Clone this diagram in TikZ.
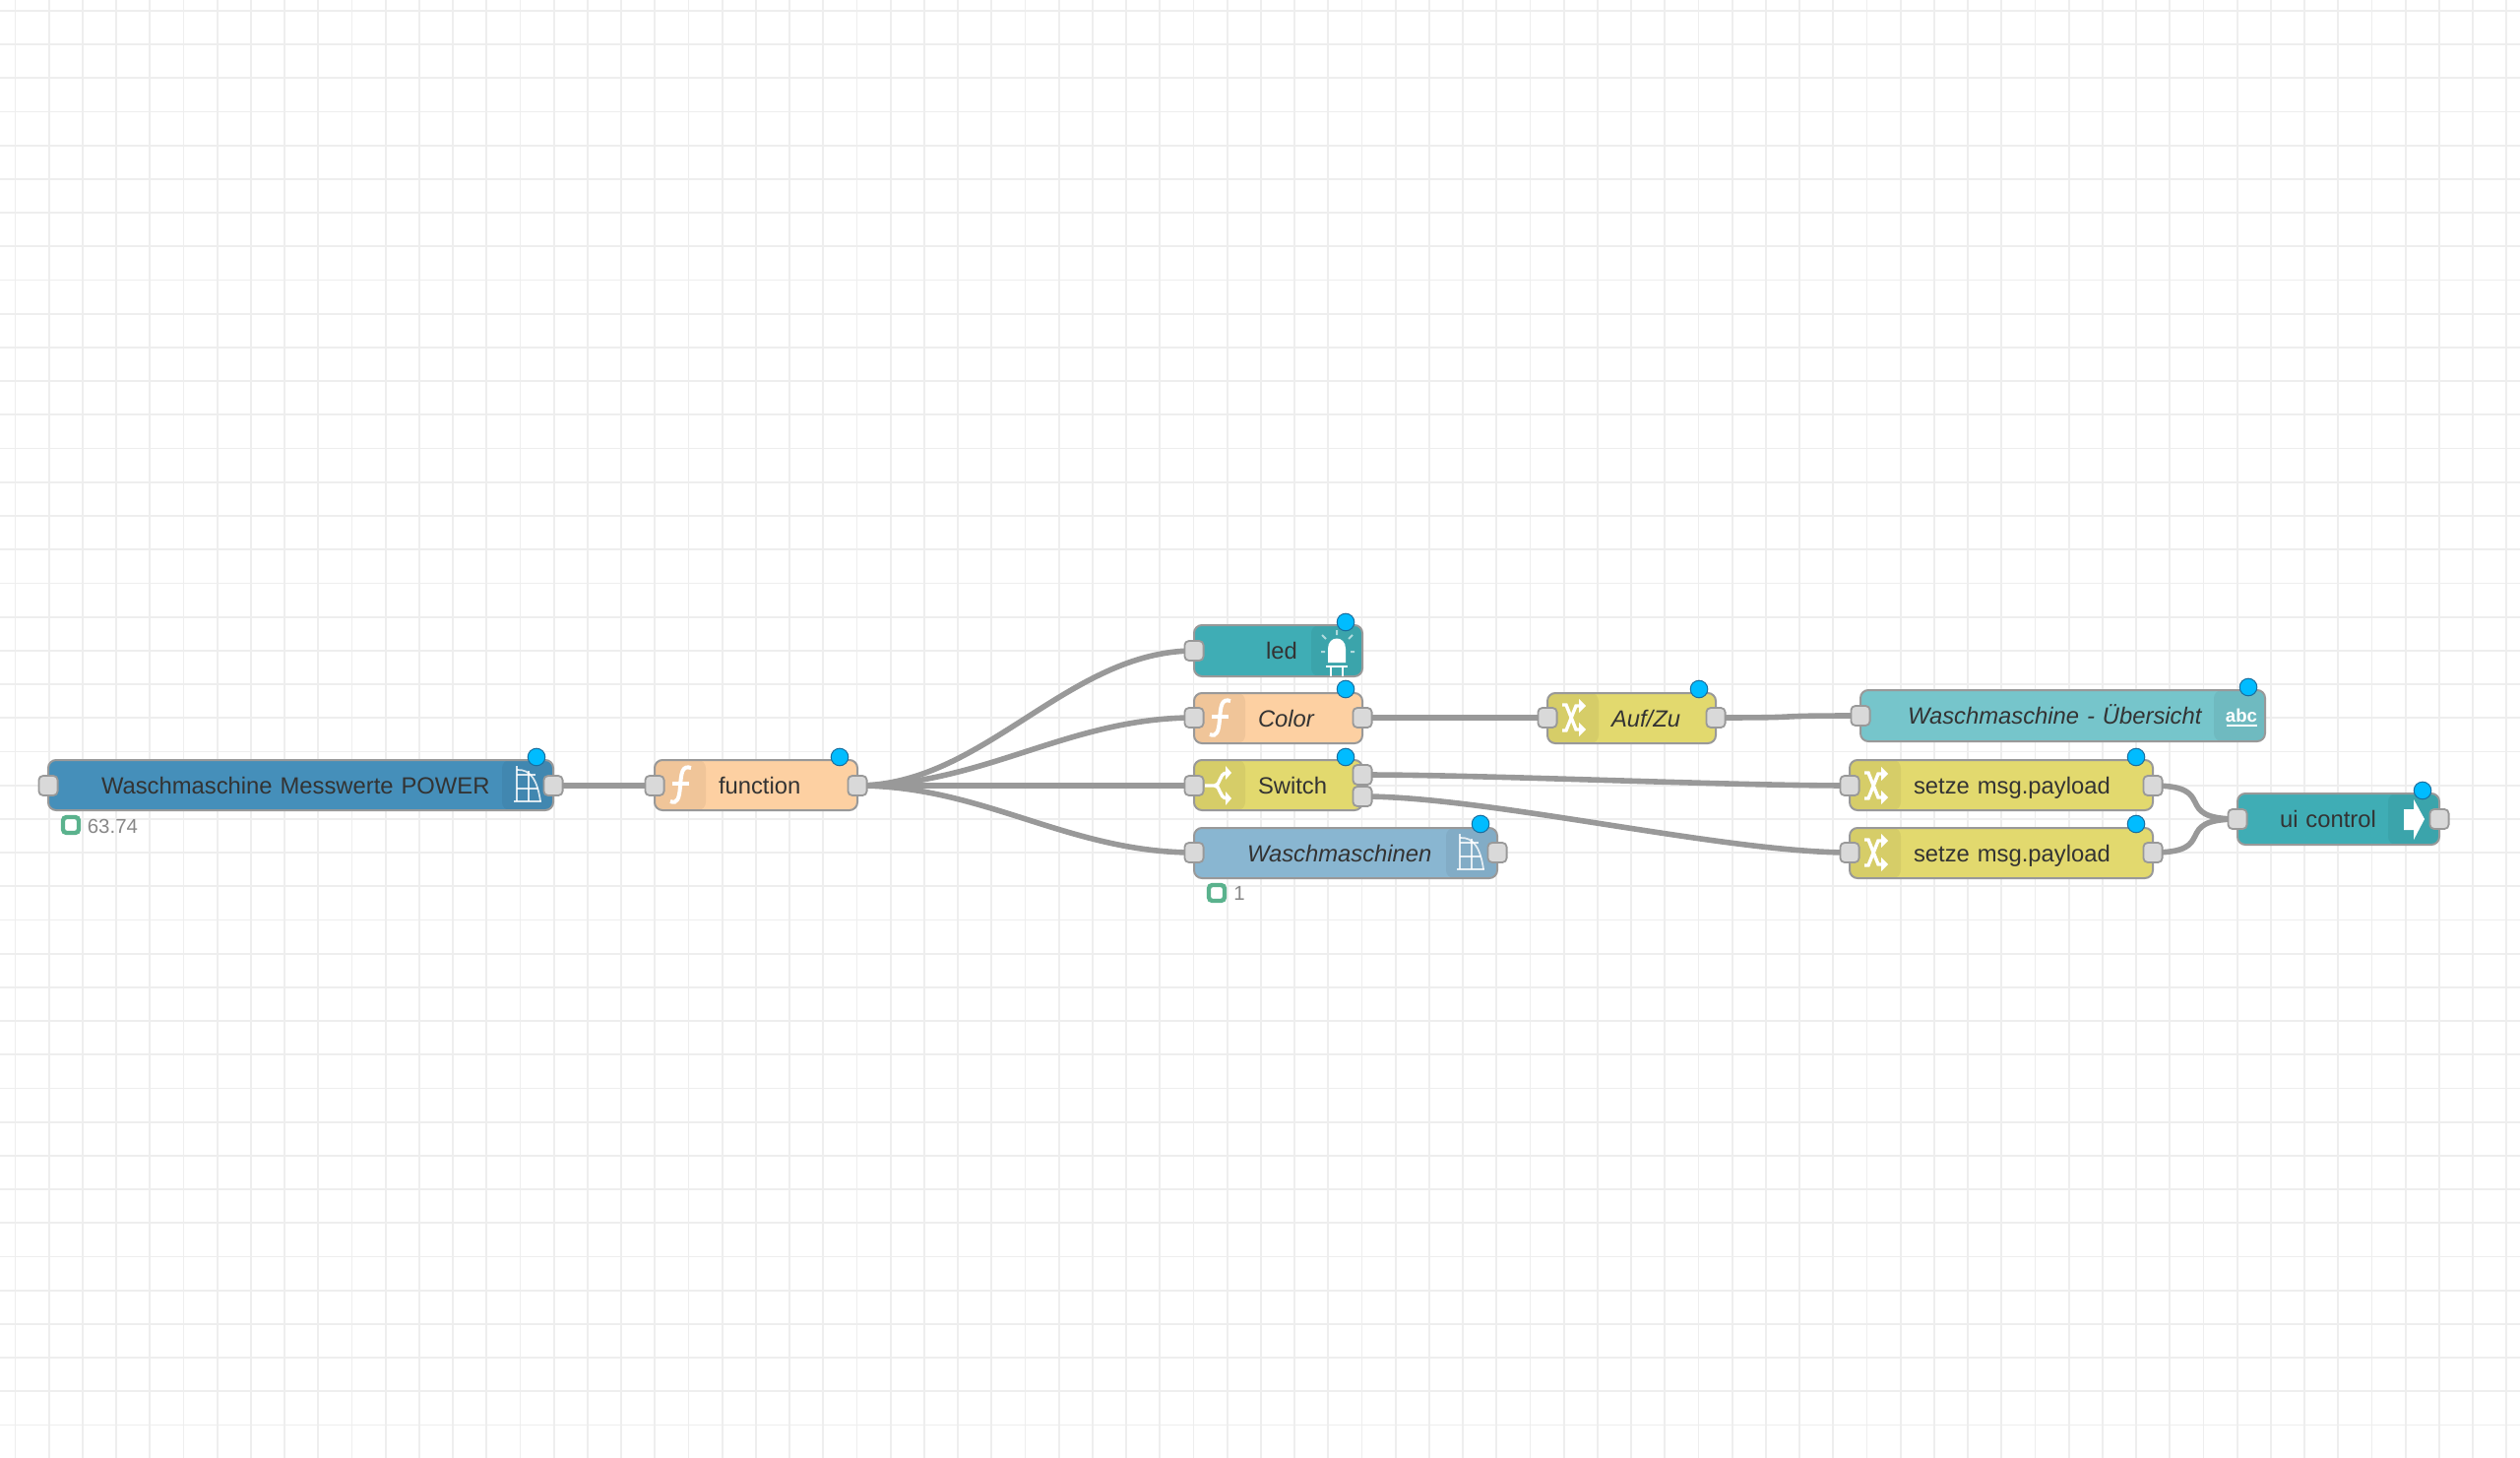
\documentclass[tikz,border=0pt]{standalone}
\usepackage{fontspec}
\setmainfont{Liberation Sans}
\definecolor{gridc}{HTML}{EEEEEE}
\definecolor{linkc}{HTML}{999999}
\definecolor{edgec}{HTML}{999999}
\definecolor{portc}{HTML}{D9D9D9}
\definecolor{labelc}{HTML}{333333}
\definecolor{statusc}{HTML}{888888}
\definecolor{okc}{HTML}{5AB28D}
\definecolor{dotc}{HTML}{00BCFF}
\definecolor{dotedge}{HTML}{1A6E9E}
\definecolor{blue1}{HTML}{458FBA}
\definecolor{blue2}{HTML}{89B6D1}
\definecolor{peach}{HTML}{FDD0A2}
\definecolor{yellow}{HTML}{E2D96E}
\definecolor{teal1}{HTML}{3FADB5}
\definecolor{teal2}{HTML}{76C5CB}
\pgfdeclarelayer{gridlayer}
\pgfdeclarelayer{linklayer}
\pgfsetlayers{gridlayer,linklayer,main}
\tikzset{
  nrbody/.style={draw=edgec,line width=1pt,rectangle,rounded corners=4pt,inner sep=0pt,outer sep=0pt,
    align=left,text=labelc,text height=10.4pt,text depth=1.5pt,font=\fontsize{11.9}{14}\selectfont},
  stripL/.style={path picture={\fill[black,opacity=.05] (path picture bounding box.north west) rectangle ([xshift=26pt]path picture bounding box.south west);}},
  stripR/.style={path picture={\fill[black,opacity=.05] ([xshift=-26pt]path picture bounding box.north east) rectangle (path picture bounding box.south east);}},
  port/.style={draw=edgec,fill=portc,line width=.9pt,rectangle,rounded corners=2.2pt,minimum width=9.6pt,minimum height=10pt,inner sep=0pt,outer sep=0pt},
  dot/.style={draw=dotedge,fill=dotc,line width=.5pt,circle,minimum size=8.8pt,inner sep=0pt},
  okbox/.style={draw=okc,fill=white,line width=2.2pt,rectangle,rounded corners=1.8pt,minimum size=8pt,inner sep=0pt},
  statustext/.style={anchor=west,inner sep=0pt,text=statusc,font=\fontsize{10.2}{12}\selectfont},
  link/.style={draw=linkc,line width=2.8pt},
  gridline/.style={draw=gridc,line width=.9pt},
  iconline/.style={draw=white,line width=1.7pt},
  iconthin/.style={draw=white,line width=.85pt,opacity=.8},
  iconfill/.style={fill=white,draw=none},
}
\newcommand\nrnode[8]{%
  \pgfmathsetlengthmacro\nrw{(#4-#2)*0.5pt}%
  \pgfmathsetlengthmacro\nrh{(#5-#3)*0.5pt}%
  \pgfmathsetlengthmacro\nro{#7*0.5pt}%
  \node[nrbody,#6,text width=\nrw,minimum height=\nrh] (#1) at ({(#2+#4)/2},{(#3+#5)/2}) {\hspace*{\nro}#8};%
}
\newcommand\iconfunc[2]{\begin{scope}[shift={(#1,#2)}]
  \draw[iconline,line width=2pt] (-11,17) .. controls (-4,20) and (-2,14) .. (-1,2) .. controls (0,-12) and (1,-20) .. (10,-17);
  \draw[iconline] (-9,-1) -- (8,-1);
\end{scope}}
\newcommand\iconchange[2]{\begin{scope}[shift={(#1,#2)}]
  \draw[iconline] (-11,-13) -- (-7,-13) -- (3,12) -- (7,12);
  \draw[iconline] (-11,13) -- (-7,13) -- (3,-12) -- (7,-12);
  \fill[iconfill] (13,12) -- (6,5) -- (6,19) -- cycle;
  \fill[iconfill] (13,-12) -- (6,-19) -- (6,-5) -- cycle;
\end{scope}}
\newcommand\iconswitch[2]{\begin{scope}[shift={(#1,#2)}]
  \draw[iconline] (-14,0) -- (-4,0) .. controls (2,0) and (0,-12) .. (8,-13);
  \draw[iconline] (-4,0) .. controls (2,0) and (0,12) .. (8,13);
  \fill[iconfill] (13,-13) -- (7,-20) -- (7,-6) -- cycle;
  \fill[iconfill] (13,13) -- (7,6) -- (7,20) -- cycle;
\end{scope}}
\newcommand\iconflow[2]{\begin{scope}[shift={(#1,#2)}]
  \draw[iconthin] (-15,17) -- (13,17);
  \draw[iconthin] (-12,-19) -- (-12,17);
  \draw[iconthin] (0,-14) -- (0,17);
  \draw[iconthin] (-12,-15) .. controls (2,-16) and (9,-4) .. (12,17);
  \draw[iconthin] (-12,-10) -- (7,-10);
  \draw[iconthin] (-12,4) -- (10,4);
\end{scope}}
\begin{document}
\begin{tikzpicture}[x=0.5pt,y=-0.5pt]
\useasboundingbox (0,0) rectangle (2560,1481);
\begin{pgfonlayer}{gridlayer}
  \fill[white] (0,0) rectangle (2560,1481);
  \foreach \i in {0,...,74}{\draw[gridline] ({15.4+34.2*\i},0) -- ({15.4+34.2*\i},1481);}
  \foreach \i in {0,...,42}{\draw[gridline] (0,{11+34.2*\i}) -- (2560,{11+34.2*\i});}
\end{pgfonlayer}

% nodes
\nrnode{power}{49}{772}{562}{823}{fill=blue1,stripR}{54}{Waschmaschine Messwerte POWER}
\nrnode{fn}{665}{772}{871}{823}{fill=peach,stripL}{65}{function}
\nrnode{led}{1213}{635}{1384}{687}{fill=teal1,stripR}{73}{led}
\nrnode{color}{1213}{704}{1384}{755}{fill=peach,stripL}{65}{\itshape Color}
\nrnode{switch}{1213}{772}{1384}{823}{fill=yellow,stripL}{65}{Switch}
\nrnode{wm}{1213}{841}{1521}{892}{fill=blue2,stripR}{54}{\itshape Waschmaschinen}
\nrnode{auf}{1572}{704}{1743}{755}{fill=yellow,stripL}{65}{\itshape Auf/Zu}
\nrnode{ueber}{1890}{701}{2301}{753}{fill=teal2,stripR}{48}{\itshape Waschmaschine - Übersicht}
\nrnode{setzeA}{1879}{772}{2187}{823}{fill=yellow,stripL}{65}{setze msg.payload}
\nrnode{setzeB}{1879}{841}{2187}{892}{fill=yellow,stripL}{65}{setze msg.payload}
\nrnode{ui}{2273}{806}{2478}{858}{fill=teal1,stripR}{43}{ui control}

% icons
\iconflow{537}{797}
\iconflow{1495}{866}
\iconfunc{692}{797}
\iconfunc{1240}{729}
\iconswitch{1238}{798}
\iconchange{1598}{729}
\iconchange{1905}{798}
\iconchange{1905}{866}
% led icon
\fill[iconfill] (1349,673) -- (1349,659) .. controls (1349,645) and (1367,645) .. (1367,659) -- (1367,673) -- cycle;
\draw[iconline,line width=1pt] (1347,677) -- (1369,677);
\draw[iconline,line width=1pt] (1352,677) -- (1352,687) (1364,677) -- (1364,687);
\draw[iconline,line width=1pt,opacity=.6] (1358,640) -- (1358,645) (1343,645) -- (1347,649) (1374,645) -- (1370,649) (1342,662) -- (1346,662) (1372,662) -- (1376,662);
% abc icon
\node[inner sep=0pt,anchor=base,text=white,font=\fontsize{9.3}{11}\selectfont\bfseries] (abc) at (2277,733) {abc};
\draw[iconline,line width=1.3pt] (2262,737) -- (2293,737);
% arrow icon
\fill[iconfill] (2442,822) -- (2452,822) -- (2452,812) -- (2463,832) -- (2452,853) -- (2452,843) -- (2442,843) -- cycle;

% ports
\node[port] (power-o) at (562,798) {};
\node[port] (power-i) at (49,798) {};
\node[port] (fn-i) at (665,798) {};
\node[port] (fn-o) at (871,798) {};
\node[port] (led-i) at (1213,661) {};
\node[port] (color-i) at (1213,729) {};
\node[port] (color-o) at (1384,729) {};
\node[port] (switch-i) at (1213,798) {};
\node[port] (switch-a) at (1384,787) {};
\node[port] (switch-b) at (1384,809) {};
\node[port] (wm-i) at (1213,866) {};
\node[port] (wm-o) at (1521,866) {};
\node[port] (auf-i) at (1572,729) {};
\node[port] (auf-o) at (1743,729) {};
\node[port] (ueber-i) at (1890,727) {};
\node[port] (setzeA-i) at (1879,798) {};
\node[port] (setzeA-o) at (2187,798) {};
\node[port] (setzeB-i) at (1879,866) {};
\node[port] (setzeB-o) at (2187,866) {};
\node[port] (ui-i) at (2273,832) {};
\node[port] (ui-o) at (2478,832) {};

% change dots
\node[dot] (d1) at (545,769) {};
\node[dot] (d2) at (853,769) {};
\node[dot] (d3) at (1367,632) {};
\node[dot] (d4) at (1367,700) {};
\node[dot] (d5) at (1367,769) {};
\node[dot] (d6) at (1504,837) {};
\node[dot] (d7) at (1726,700) {};
\node[dot] (d8) at (2284,698) {};
\node[dot] (d9) at (2170,769) {};
\node[dot] (d10) at (2170,837) {};
\node[dot] (d11) at (2461,803) {};

% status
\node[okbox] (st1) at (72,838) {};
\node[statustext] (st1t) at (88.5,839) {63.74};
\node[okbox] (st2) at (1236,907) {};
\node[statustext] (st2t) at (1253,907.5) {1};

% links
\begin{pgfonlayer}{linklayer}
  \draw[link] (power-o.center) -- (fn-i.center);
  \draw[link] (fn-o.center) .. controls +(128,0) and +(-128,0) .. (led-i.center);
  \draw[link] (fn-o.center) .. controls +(128,0) and +(-128,0) .. (color-i.center);
  \draw[link] (fn-o.center) -- (switch-i.center);
  \draw[link] (fn-o.center) .. controls +(128,0) and +(-128,0) .. (wm-i.center);
  \draw[link] (color-o.center) -- (auf-i.center);
  \draw[link] (auf-o.center) .. controls +(110,0) and +(-110,0) .. (ueber-i.center);
  \draw[link] (switch-a.center) .. controls +(128,0) and +(-128,0) .. (setzeA-i.center);
  \draw[link] (switch-b.center) .. controls +(128,0) and +(-128,0) .. (setzeB-i.center);
  \draw[link] (setzeA-o.center) .. controls +(69,0) and +(-69,0) .. (ui-i.center);
  \draw[link] (setzeB-o.center) .. controls +(69,0) and +(-69,0) .. (ui-i.center);
\end{pgfonlayer}
\end{tikzpicture}
\end{document}
